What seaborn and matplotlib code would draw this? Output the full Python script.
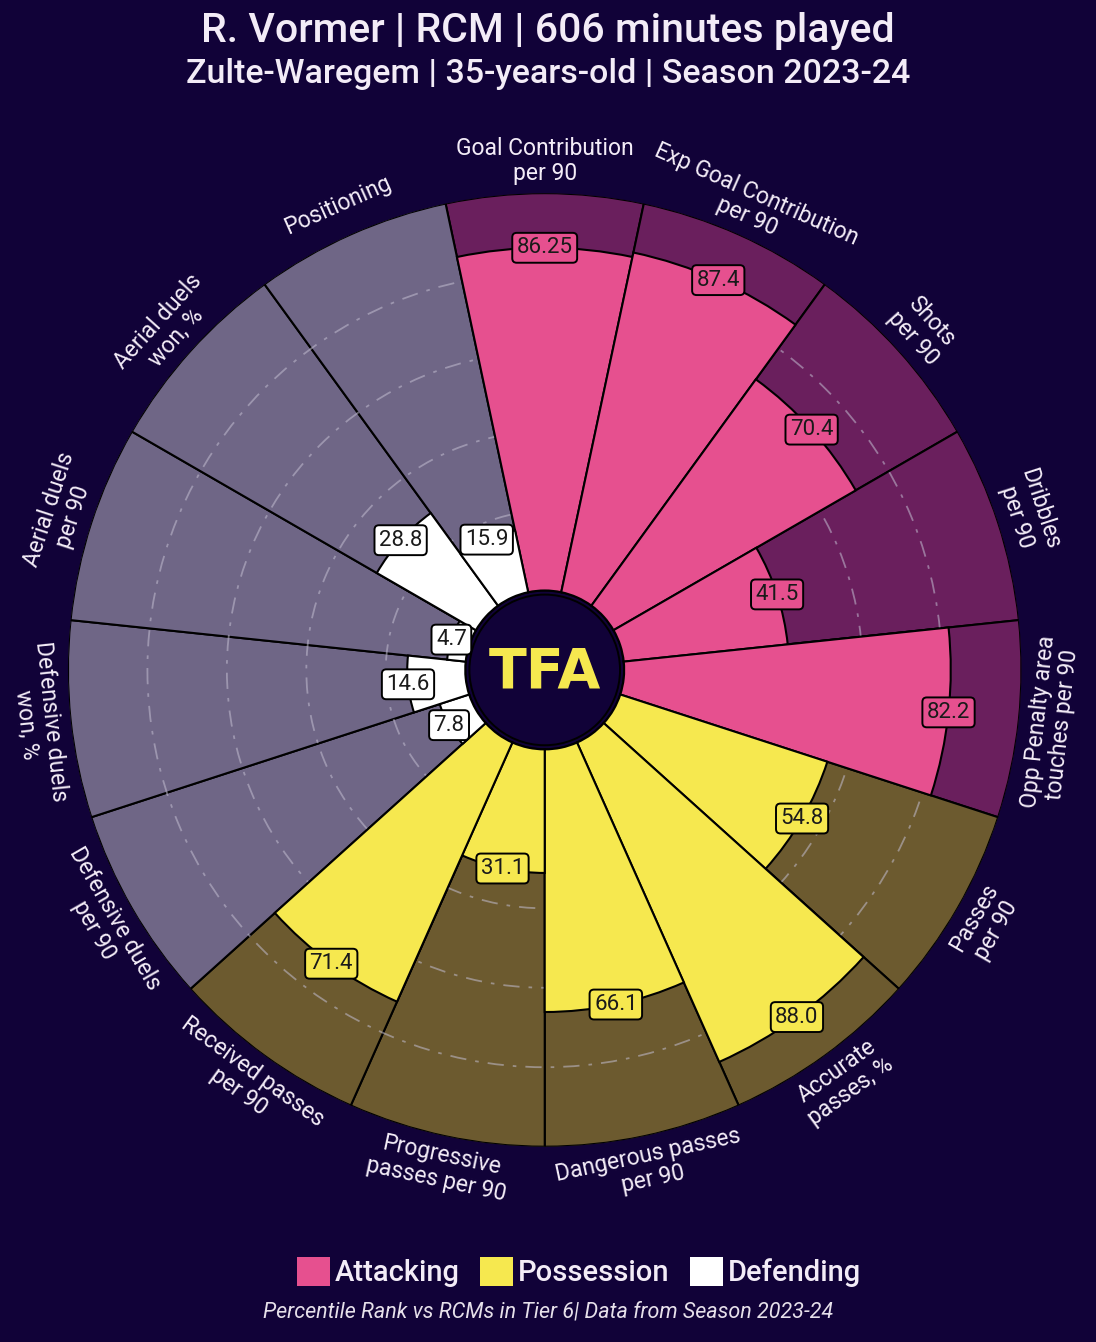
import numpy as np
import matplotlib.pyplot as plt
import seaborn as sns
from matplotlib.patches import Circle, Patch

# ---- data (clockwise from top) ----
params = ["Goal Contribution\nper 90", "Exp Goal Contribution\nper 90", "Shots\nper 90",
          "Dribbles\nper 90", "Opp Penalty area\ntouches per 90",
          "Passes\nper 90", "Accurate\npasses, %", "Dangerous passes\nper 90",
          "Progressive\npasses per 90", "Received passes\nper 90",
          "Defensive duels\nper 90", "Defensive duels\nwon, %", "Aerial duels\nper 90",
          "Aerial duels\nwon, %", "Positioning"]
values = [86.25, 87.4, 70.4, 41.5, 82.2,
          54.8, 88.0, 66.1, 31.1, 71.4,
          7.8, 14.6, 4.7, 28.8, 15.9]
groups = ["Attacking"] * 5 + ["Possession"] * 5 + ["Defending"] * 5
group_names = ["Attacking", "Possession", "Defending"]

title = "R. Vormer | RCM | 606 minutes played"
subtitle = "Zulte-Waregem | 35-years-old | Season 2023-24"
footer = "Percentile Rank vs RCMs in Tier 6| Data from Season 2023-24"

BG = "#110238"
TXT = "#f3ecf7"
slice_col = dict(zip(group_names, sns.color_palette(["#e6508f", "#f6e84f", "#ffffff"])))
back_col = dict(zip(group_names, sns.color_palette(["#6a1f5d", "#6c5a2f", "#6f6686"])))

sns.set_theme(style="dark", rc={"figure.facecolor": BG, "axes.facecolor": BG})
plt.rcParams["font.family"] = ["Roboto", "DejaVu Sans"]

fig = plt.figure(figsize=(10.96, 13.42), dpi=100)
ax = fig.add_axes([0.062, 0.1453, 0.870, 0.711], projection="polar")
ax.set_facecolor(BG)
ax.set_theta_zero_location("N")
ax.set_theta_direction(-1)
ax.set_ylim(-20, 100)

n = len(params)
theta = np.arange(n) * 2 * np.pi / n
width = 2 * np.pi / n

ax.bar(theta, [100] * n, width=width, bottom=0,
       color=[back_col[g] for g in groups], edgecolor="black", lw=1.5, zorder=1)
ax.bar(theta, values, width=width, bottom=0,
       color=[slice_col[g] for g in groups], edgecolor="black", lw=1.5, zorder=3)

# grid between background slices and value slices
ax.set_axisbelow("line")
ax.set_yticks([20, 40, 60, 80])
ax.set_yticklabels([])
ax.set_xticks([])
ax.yaxis.grid(True, ls=(0, (9, 5, 2, 5)), color="#c2bdd0", lw=1.3, alpha=0.55)
ax.xaxis.grid(False)
ax.spines["polar"].set_visible(False)

for th, v, g, p in zip(theta, values, groups, params):
    ang = 90 - np.degrees(th)
    ang = (ang + 180) % 360 - 180
    rot = ang - 90 if ang > 0 else ang + 90
    ax.text(th, v, str(v), ha="center", va="center", fontsize=16, color="#1a1a1a",
            zorder=6, bbox=dict(boxstyle="round,pad=0.2", fc=slice_col[g], ec="black", lw=1.4))
    ax.text(th, 108, p, ha="center", va="center", fontsize=16.5, color=TXT,
            rotation=rot, rotation_mode="anchor", multialignment="center",
            linespacing=1.1, clip_on=False)

# centre logo
ax.add_patch(Circle((0.5, 0.5), 0.079, transform=ax.transAxes, fc=BG, ec="black",
                    lw=1.4, zorder=5, clip_on=False))
ax.text(0.5, 0.497, "TFA", transform=ax.transAxes, ha="center", va="center",
        fontsize=40, fontweight="bold", color="#f6e84f", zorder=6, family="DejaVu Sans")

fig.text(0.5, 0.977, title, ha="center", va="center", fontsize=29.5,
         fontweight="medium", color=TXT)
fig.text(0.5, 0.945, subtitle, ha="center", va="center", fontsize=24.5,
         fontweight="medium", color=TXT)

handles = [Patch(fc=slice_col[g], ec="none") for g in group_names]
leg = fig.legend(handles, group_names, loc="center", bbox_to_anchor=(0.528, 1 - 1272 / 1342),
                 ncol=3, frameon=False, fontsize=21, handlelength=1.15, handleheight=1.15,
                 handletextpad=0.15, columnspacing=0.7, labelcolor=TXT)
for t in leg.get_texts():
    t.set_fontweight("medium")
fig.text(0.5, 1 - 1312 / 1342, footer, ha="center", va="center", fontsize=15.5,
         style="italic", color="#e6e0ea")

fig.savefig("out.png", dpi=100, facecolor=BG)
